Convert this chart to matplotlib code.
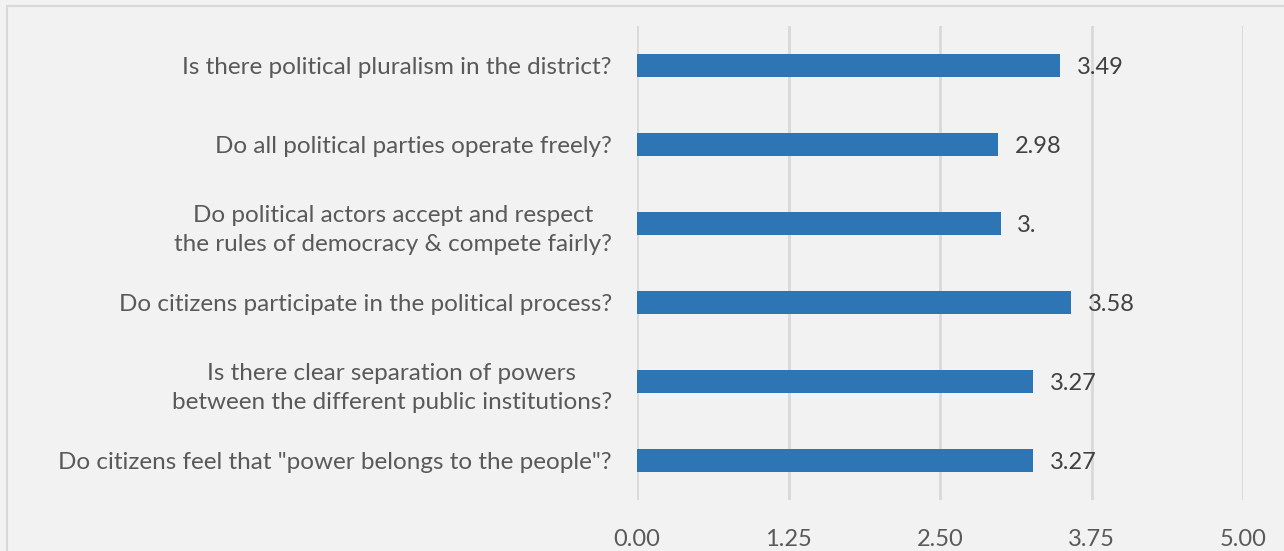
import matplotlib.pyplot as plt
from matplotlib.patches import Rectangle

# Survey questions (top to bottom) and mean scores
questions = [
    "Is there political pluralism in the district?",
    "Do all political parties operate freely?",
    "Do political actors accept and respect\nthe rules of democracy & compete fairly?",
    "Do citizens participate in the political process?",
    "Is there clear separation of powers\nbetween the different public institutions?",
    "Do citizens feel that \"power belongs to the people\"?",
]
scores = [3.49, 2.98, 3.00, 3.58, 3.27, 3.27]
score_labels = ["3.49", "2.98", "3.", "3.58", "3.27", "3.27"]
ticks = [0.00, 1.25, 2.50, 3.75, 5.00]

plt.rcParams['font.family'] = ['Lato', 'DejaVu Sans']

fig = plt.figure(figsize=(12.84, 5.51), dpi=100, facecolor='#f2f2f2')
fig.patches.append(Rectangle((7 / 1284, -0.1), 1.2, 1 - 6 / 551 + 0.1, transform=fig.transFigure,
                             facecolor='none', edgecolor='#d9d9d9', linewidth=1.5))

ax = fig.add_axes([637 / 1284, 1 - 500 / 551, (1243 - 637) / 1284, (500 - 26) / 551])
ax.set_facecolor('#f2f2f2')

ypos = list(range(len(questions)))
ax.barh(ypos, scores, height=0.3, color='#2e75b6', zorder=3)
for y, v, lab in zip(ypos, scores, score_labels):
    ax.annotate(lab, (v, y), xytext=(12, -1.5), textcoords='offset points',
                va='center', ha='left', fontsize=17, color='#404040')

ax.set_xlim(0, 5)
ax.set_ylim(len(questions) - 0.5, -0.5)
ax.set_xticks(ticks)
ax.set_xticklabels([f"{t:.2f}" for t in ticks], fontsize=17, color='#595959')
ax.set_yticks(ypos)
ax.set_yticklabels(questions, fontsize=17.5, color='#595959', ha='right', multialignment='center',
                   linespacing=1.5)
ax.tick_params(axis='both', length=0)
ax.tick_params(axis='x', pad=21)
ax.tick_params(axis='y', pad=18)
ax.grid(axis='x', color='#d9d9d9', linewidth=2, zorder=0)
for s in ax.spines.values():
    s.set_visible(False)

fig.savefig('out.png', dpi=100, facecolor=fig.get_facecolor())
